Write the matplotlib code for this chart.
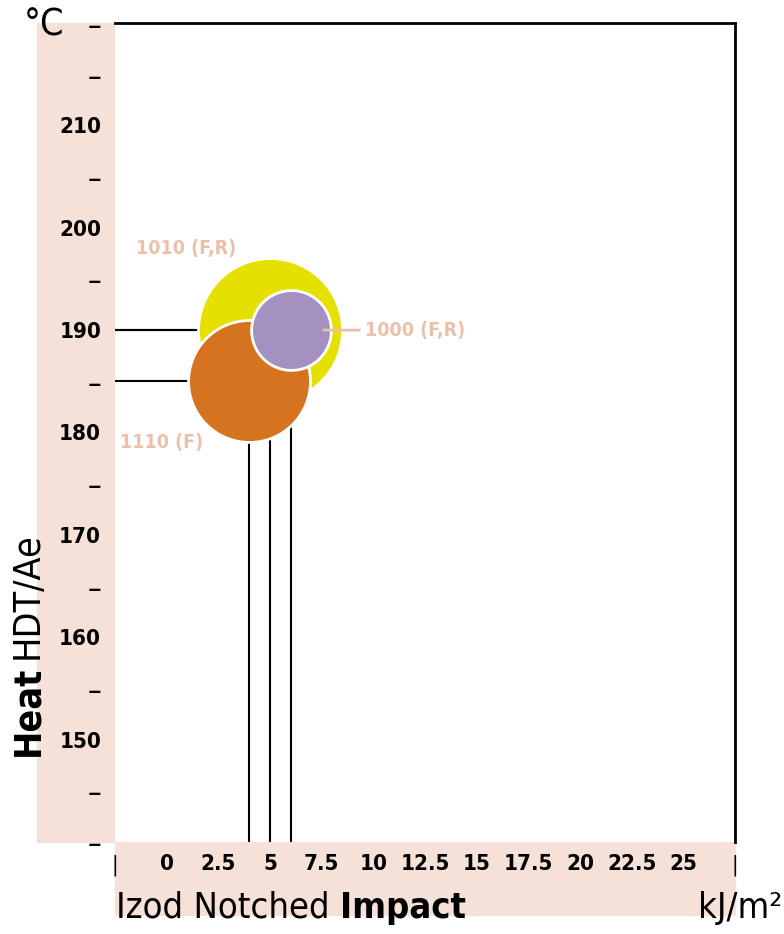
import matplotlib
matplotlib.use('Agg')
from matplotlib import pyplot as plt
from matplotlib.patches import Rectangle

plt.rcParams['font.family'] = ['DejaVu Sans']
plt.rcParams['font.stretch'] = 'condensed'

grades = ['1010 (F,R)', '1110 (F)', '1000 (F,R)']
impact = [5, 4, 6]
hdt = [190, 185, 190]
sizes = [10750, 7700, 3300]
colors = ['#e6e000', '#d5731f', '#a591c1']

y_major = [150, 160, 170, 180, 190, 200, 210]
x_labels = ['0', '2.5', '5', '7.5', '10', '12.5', '15', '17.5', '20', '22.5', '25']

band = '#f5e1d8'
label_col = '#ecc0a8'

W, H = 784, 934
fig = plt.figure(figsize=(W / 100, H / 100), dpi=100)
ax = fig.add_axes([115 / W, 1 - 842 / H, 620 / W, 819 / H])
ax.set_zorder(2)

# shaded bands behind tick labels
fig.patches.append(Rectangle((37 / W, 1 - 842 / H), 78 / W, 819 / H,
                             transform=fig.transFigure, color=band, zorder=0))
fig.patches.append(Rectangle((115 / W, 1 - 915 / H), 620 / W, 73 / H,
                             transform=fig.transFigure, color=band, zorder=0))

ax.set_xlim(-2.5, 27.5)
ax.set_ylim(140, 220)

# guide lines to the axes
for x, y in zip(impact, hdt):
    ax.plot([-2.5, x], [y, y], color='black', lw=1.5, zorder=1)
    ax.plot([x, x], [140, y], color='black', lw=1.5, zorder=1)

for x, y, s, c in zip(impact, hdt, sizes, colors):
    ax.scatter(x, y, s=s, color=c, edgecolors='white', linewidths=2, zorder=3)

lab = dict(color=label_col, fontsize=14, fontweight='bold', va='center', ha='left')
ax.text(-1.5, 198, grades[0], **lab)
ax.text(-2.25, 179, grades[1], **lab)
ax.annotate(grades[2], xy=(7.6, 190), xytext=(9.6, 190),
            arrowprops=dict(arrowstyle='-', color=label_col, lw=2,
                            shrinkA=2, shrinkB=0), zorder=4, **lab)

yt = list(range(140, 221, 5))
ax.set_yticks(yt)
ax.set_yticklabels([str(v) if v in y_major else '\u2013' for v in yt],
                   fontsize=16, fontweight='bold')
for v, t in zip(yt, ax.get_yticklabels()):
    if v not in y_major:
        t.set_fontsize(22)
        t.set_fontweight('normal')
xt = [-2.5 + 2.5 * i for i in range(13)]
ax.set_xticks(xt)
ax.set_xticklabels(['|'] + x_labels + ['|'], fontsize=16, fontweight='bold')
ax.tick_params(axis='y', length=0, pad=10)
ax.tick_params(axis='x', length=0, pad=9)
ax.get_xticklabels()[0].set_fontweight('normal')
ax.get_xticklabels()[-1].set_fontweight('normal')

for side in ['left', 'bottom']:
    ax.spines[side].set_visible(False)
for side in ['top', 'right']:
    ax.spines[side].set_linewidth(2)

# axis titles
fig.canvas.draw()
r = fig.canvas.get_renderer()
t1 = fig.text(116 / W, 1 - 908 / H, 'Izod Notched ', fontsize=26, va='center', ha='left')
bb = t1.get_window_extent(r)
fig.text(bb.x1 / W, 1 - 908 / H, 'Impact', fontsize=26, fontweight='bold',
         va='center', ha='left')
fig.text(782 / W, 1 - 908 / H, 'kJ/m\u00b2', fontsize=26, va='center', ha='right')

t2 = fig.text(28 / W, 1 - 756 / H, 'Heat', fontsize=27, fontweight='bold', rotation=90,
              rotation_mode='anchor', ha='left', va='center')
bb = t2.get_window_extent(r)
fig.text(28 / W, (bb.y1 + 7) / H, 'HDT/Ae', fontsize=27, rotation=90,
         rotation_mode='anchor', ha='left', va='center')
fig.text(24 / W, 1 - 26 / H, '\u00b0C', fontsize=27, ha='left', va='center')

fig.savefig('out.png', dpi=100)
